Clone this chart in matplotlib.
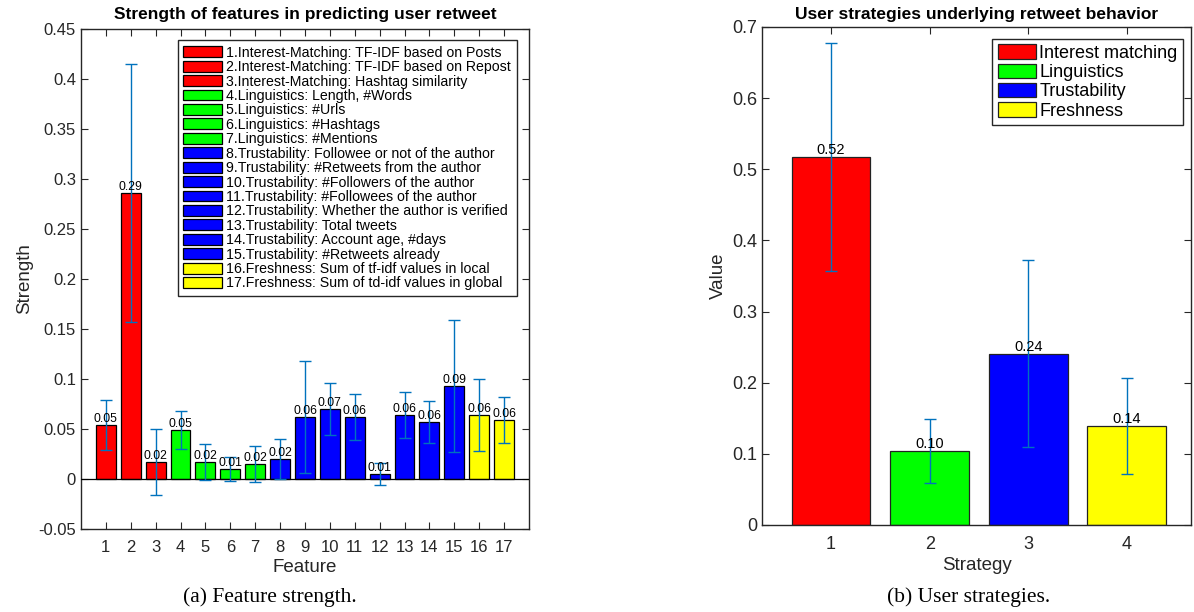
import numpy as np
import matplotlib
matplotlib.use("Agg")
import matplotlib.pyplot as plt
from matplotlib.ticker import FormatStrFormatter

plt.rcParams["font.family"] = ["Liberation Sans", "DejaVu Sans"]

# Feature strength data
features = list(range(1, 18))
strength = [0.054, 0.286, 0.017, 0.049, 0.017, 0.010, 0.0155, 0.020, 0.062,
            0.070, 0.062, 0.005, 0.064, 0.057, 0.093, 0.064, 0.059]
strength_err = [0.025, 0.129, 0.033, 0.019, 0.018, 0.012, 0.018, 0.020, 0.056,
                0.026, 0.023, 0.011, 0.023, 0.021, 0.066, 0.036, 0.023]
feature_groups = [0, 0, 0, 1, 1, 1, 1, 2, 2, 2, 2, 2, 2, 2, 2, 3, 3]
feature_names = [
    "1.Interest-Matching: TF-IDF based on Posts",
    "2.Interest-Matching: TF-IDF based on Repost",
    "3.Interest-Matching: Hashtag similarity",
    "4.Linguistics: Length, #Words",
    "5.Linguistics: #Urls",
    "6.Linguistics: #Hashtags",
    "7.Linguistics: #Mentions",
    "8.Trustability: Followee or not of the author",
    "9.Trustability: #Retweets from the author",
    "10.Trustability: #Followers of the author",
    "11.Trustability: #Followees of the author",
    "12.Trustability: Whether the author is verified",
    "13.Trustability: Total tweets",
    "14.Trustability: Account age, #days",
    "15.Trustability: #Retweets already",
    "16.Freshness: Sum of tf-idf values in local",
    "17.Freshness: Sum of td-idf values in global",
]

# Strategy data
strategies = [1, 2, 3, 4]
strategy_names = ["Interest matching", "Linguistics", "Trustability", "Freshness"]
strategy_value = [0.517, 0.104, 0.241, 0.139]
strategy_err = [0.160, 0.045, 0.131, 0.068]

group_colors = ["#ff0000", "#00ff00", "#0000ff", "#ffff00"]
err_color = "#0072bd"
spine_color = "#262626"

fig = plt.figure(figsize=(11.94, 6.12), dpi=100)


def style_axes(ax, size):
    for s in ax.spines.values():
        s.set_color(spine_color)
        s.set_linewidth(1.0)
    ax.tick_params(direction="in", top=True, right=True, length=5,
                   labelsize=size, colors=spine_color, labelcolor="#262626")
    ax.tick_params(axis="x", pad=8)


# ---- (a) feature strength ----
ax1 = fig.add_axes([0.0678, 0.1356, 0.3752, 0.817])
cols = [group_colors[g] for g in feature_groups]
bars = ax1.bar(features, strength, width=0.8, color=cols, edgecolor="black",
               linewidth=0.9, zorder=2)
ax1.errorbar(features, strength, yerr=strength_err, fmt="none", ecolor=err_color,
             elinewidth=1.0, capsize=4, capthick=1.0, zorder=4)
ax1.axhline(0, color="black", lw=0.9, zorder=3)
for x, v in zip(features, strength):
    ax1.text(x, v, "%.2f" % v, ha="center", va="bottom", fontsize=8.8, zorder=5)
ax1.set_xlim(0, 18)
ax1.set_ylim(-0.05, 0.45)
ax1.set_xticks(features)
ax1.set_yticks(np.arange(-0.05, 0.451, 0.05))
ax1.yaxis.set_major_formatter(FormatStrFormatter("%g"))
style_axes(ax1, 12)
ax1.set_xlabel("Feature", fontsize=13.5, color="#262626", labelpad=3)
ax1.set_ylabel("Strength", fontsize=13.5, color="#262626")
ax1.set_title("Strength of features in predicting user retweet",
              fontsize=12.5, fontweight="bold", pad=7)
leg1 = ax1.legend(bars, feature_names, loc="upper right",
                  bbox_to_anchor=(0.973, 0.978), borderaxespad=0,
                  fontsize=10.2, labelspacing=0.03, handlelength=2.75,
                  handleheight=0.8, handletextpad=0.3, borderpad=0.4,
                  fancybox=False, framealpha=1)
leg1.get_frame().set_edgecolor(spine_color)
leg1.get_frame().set_linewidth(1.0)

# ---- (b) user strategies ----
ax2 = fig.add_axes([0.6382, 0.1422, 0.3593, 0.8137])
bars2 = ax2.bar(strategies, strategy_value, width=0.8, color=group_colors,
                edgecolor="#222222", linewidth=0.9, zorder=2)
ax2.errorbar(strategies, strategy_value, yerr=strategy_err, fmt="none",
             ecolor=err_color, elinewidth=1.0, capsize=4, capthick=1.0, zorder=4)
for x, v in zip(strategies, strategy_value):
    ax2.text(x, v, "%.2f" % v, ha="center", va="bottom", fontsize=10.5, zorder=5)
ax2.set_xlim(0.3, 4.65)
ax2.set_ylim(0, 0.7)
ax2.set_xticks(strategies)
ax2.set_yticks(np.arange(0, 0.71, 0.1))
ax2.yaxis.set_major_formatter(FormatStrFormatter("%g"))
style_axes(ax2, 13)
ax2.set_xlabel("Strategy", fontsize=13.5, color="#262626", labelpad=3)
ax2.set_ylabel("Value", fontsize=13.5, color="#262626")
ax2.set_title("User strategies underlying retweet behavior",
              fontsize=12.5, fontweight="bold", pad=6)
leg2 = ax2.legend(bars2, strategy_names, loc="upper right",
                  bbox_to_anchor=(0.981, 0.976), borderaxespad=0,
                  fontsize=13, labelspacing=0.1, handlelength=2.1,
                  handleheight=0.85, handletextpad=0.2, borderpad=0.3,
                  fancybox=False, framealpha=1)
leg2.get_frame().set_edgecolor(spine_color)
leg2.get_frame().set_linewidth(1.0)

# captions
fig.text(270 / 1194, 1 - 597 / 612, "(a) Feature strength.", ha="center",
         va="center", fontsize=15.5, family="Liberation Serif")
fig.text(969 / 1194, 1 - 597 / 612, "(b) User strategies.", ha="center",
         va="center", fontsize=15.5, family="Liberation Serif")

fig.savefig("out.png", dpi=100)
